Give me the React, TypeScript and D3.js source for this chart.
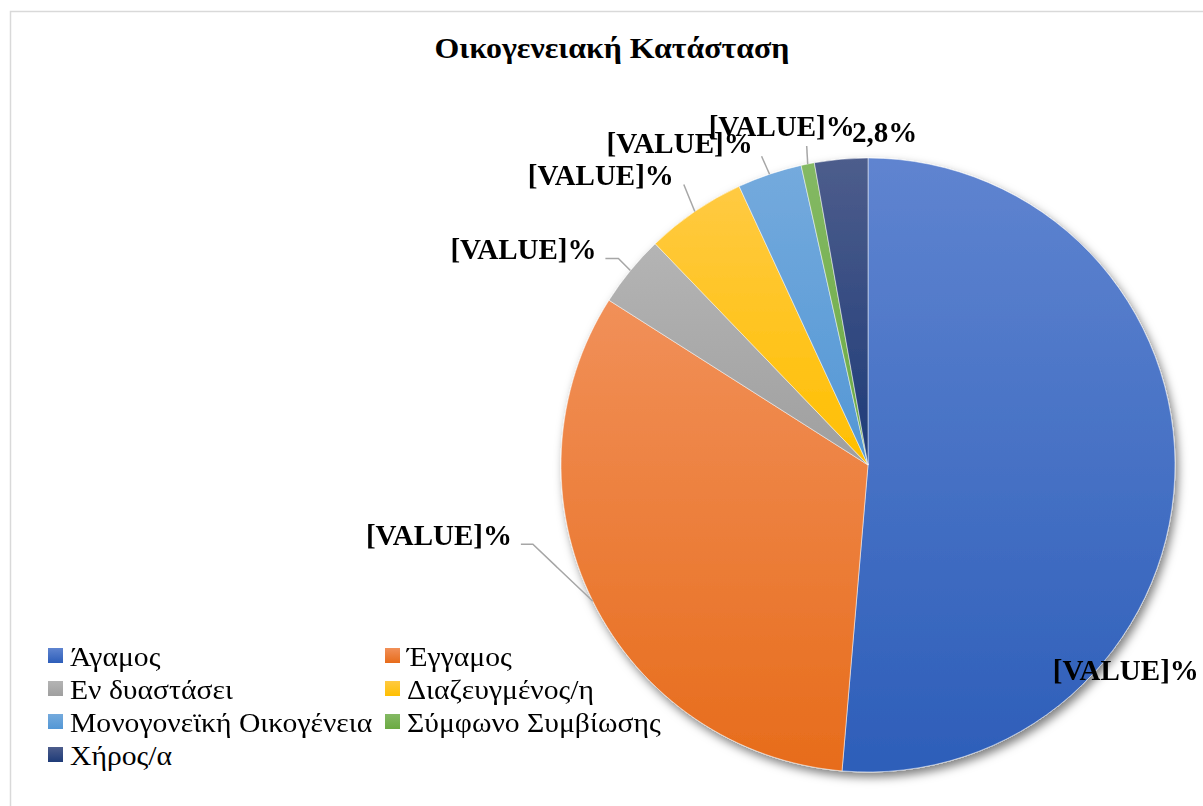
import React from 'react';
import * as d3 from 'd3';

// Data
const categories = [
  'Άγαμος',
  'Έγγαμος',
  'Εν δυαστάσει',
  'Διαζευγμένος/η',
  'Μονογονεϊκή Οικογένεια',
  'Σύμφωνο Συμβίωσης',
  'Χήρος/α',
];
const shares = [51.4, 32.7, 3.8, 5.3, 3.4, 0.7, 2.8];
const labelTexts = ['[VALUE]%', '[VALUE]%', '[VALUE]%', '[VALUE]%', '[VALUE]%', '[VALUE]%', '2,8%'];

// gradient colours: [top, bottom]
const sliceColours: [string, string][] = [
  ['#5f84d0', '#2d5eb9'],
  ['#f19059', '#e76c1b'],
  ['#b4b4b4', '#9f9f9f'],
  ['#ffca42', '#ffbf00'],
  ['#74aadd', '#5397d5'],
  ['#84b964', '#6baa42'],
  ['#4d5d8c', '#1e3b78'],
];

// label offsets relative to the slice's outer edge midpoint:
// [labelDx, labelDy, lineStartDx, lineStartDy, kneeDx] (null = no leader)
const LABEL_LAYOUT: [number, number, number | null, number | null, number | null][] = [
  [-122, 202, null, null, null],
  [-227, -56, -72, -57, -60],
  [-180, -12, -25, -12, -12],
  [-167, -27, -11, -27, null],
  [-163, -21, -8, -18, null],
  [-99, -28, -1, -18, null],
  [11, -17, null, null, null],
];

const W = 1203;
const H = 806;
const CX = 868;
const CY = 465;
const R = 307;
const FONT = '"Liberation Serif", "Times New Roman", serif';

export default function App() {
  const pie = d3
    .pie<number>()
    .sort(null)
    .value((d) => d);
  const arcs = pie(shares);
  const arc = d3.arc<d3.PieArcDatum<number>>().innerRadius(0).outerRadius(R);

  const edgePoint = (a: d3.PieArcDatum<number>) => {
    const mid = (a.startAngle + a.endAngle) / 2;
    return [CX + R * Math.sin(mid), CY - R * Math.cos(mid)];
  };

  const legendCols = [48, 385];
  const legendRow0 = 666;
  const legendRowH = 33;

  return (
    <svg
      width={W}
      height={H}
      style={{ position: 'absolute', left: 0, top: 0, background: '#fff' }}
    >
      <defs>
        {sliceColours.map(([top, bottom], i) => (
          <linearGradient key={i} id={`grad${i}`} x1="0" y1="0" x2="0" y2="1">
            <stop offset="0%" stopColor={top} />
            <stop offset="100%" stopColor={bottom} />
          </linearGradient>
        ))}
        <filter id="shadow" x="-20%" y="-20%" width="140%" height="140%">
          <feDropShadow dx="3" dy="5" stdDeviation="5" floodColor="#000" floodOpacity="0.5" />
        </filter>
      </defs>

      <rect x={10.5} y={11.5} width={1220} height={820} fill="#fff" stroke="#d9d9d9" strokeWidth={1.5} />

      <text
        transform="translate(612,58) scale(1.063,1)"
        textAnchor="middle"
        style={{ fontFamily: FONT, fontWeight: 'bold', fontSize: 30 }}
        fill="#000"
      >
        Οικογενειακή Κατάσταση
      </text>

      <g filter="url(#shadow)">
        {arcs.map((a, i) => (
          <path
            key={i}
            d={arc(a) ?? ''}
            transform={`translate(${CX},${CY})`}
            fill={`url(#grad${i})`}
            stroke="#fff"
            strokeWidth={0.5}
          />
        ))}
      </g>

      {arcs.map((a, i) => {
        const [ex, ey] = edgePoint(a);
        const [ldx, ldy, sdx, sdy, kdx] = LABEL_LAYOUT[i];
        let line: string | null = null;
        if (sdx !== null && sdy !== null) {
          const pts: [number, number][] = [[ex + sdx, ey + sdy]];
          if (kdx !== null) pts.push([ex + kdx, ey + sdy]);
          pts.push([ex, ey]);
          line = d3.line()(pts);
        }
        return (
          <g key={i}>
            {line && <path d={line} fill="none" stroke="#a6a6a6" strokeWidth={1.5} />}
            <text
              x={ex + ldx}
              y={ey + ldy}
              style={{ fontFamily: FONT, fontWeight: 'bold', fontSize: 29 }}
              fill="#000"
            >
              {labelTexts[i]}
            </text>
          </g>
        );
      })}

      {categories.map((c, i) => {
        const col = i % 2;
        const row = Math.floor(i / 2);
        const x = legendCols[col];
        const y = legendRow0 + row * legendRowH;
        return (
          <g key={c}>
            <rect x={x} y={y - 18} width={15} height={15} fill={`url(#grad${i})`} />
            <text
              transform={`translate(${x + 22},${y}) scale(1.098,1)`}
              style={{ fontFamily: FONT, fontSize: 27 }}
              fill="#000"
            >
              {c}
            </text>
          </g>
        );
      })}
    </svg>
  );
}
